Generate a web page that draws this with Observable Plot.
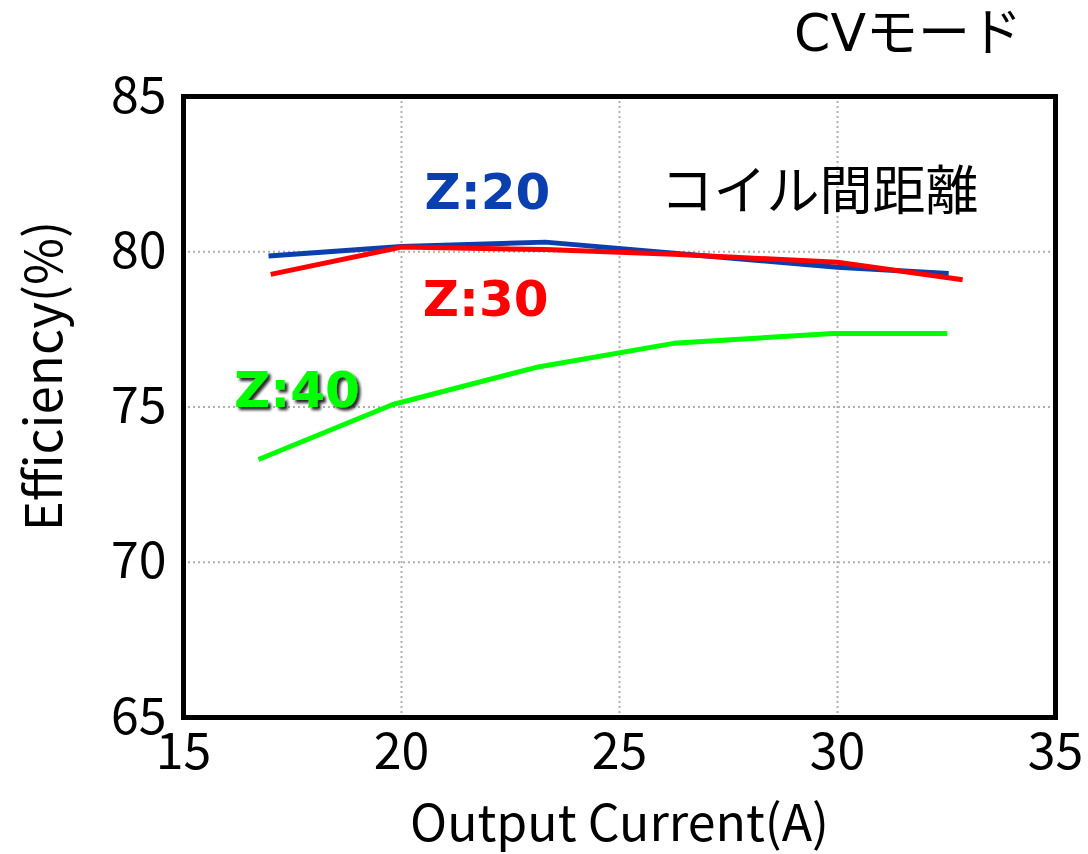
<!DOCTYPE html>
<html><head><meta charset="utf-8">
<script src="https://cdn.jsdelivr.net/npm/d3@7"></script>
<script src="https://cdn.jsdelivr.net/npm/@observablehq/plot@0.6"></script>
<style>
body{margin:0;background:#fff;}
#c{position:relative;width:1088px;height:854px;}
#title{position:absolute;right:66px;top:7px;font-family:'DejaVu Sans','Noto Sans CJK JP',sans-serif;font-size:52px;line-height:52px;color:#000;white-space:nowrap;}
</style>
</head><body><div id="c"><div id="title"></div></div>
<script>
const xTicks = [15, 20, 25, 30, 35];
const yTicks = [65, 70, 75, 80, 85];
const z20x = [16.95, 20.0, 23.3, 30.0, 32.55];
const z20y = [79.86, 80.17, 80.31, 79.5, 79.3];
const z30x = [17.0, 20.0, 23.3, 26.24, 30.0, 32.87];
const z30y = [79.27, 80.15, 80.07, 79.92, 79.66, 79.1];
const z40x = [16.72, 19.8, 23.07, 26.24, 29.9, 32.52];
const z40y = [73.31, 75.08, 76.27, 77.05, 77.37, 77.37];
const seriesNames = ["Z:20", "Z:30", "Z:40"];
const seriesColors = ["#0a3fb0", "#ff0000", "#00ff00"];
const titleText = "CVモード";
const legendTitle = "コイル間距離";

const rows = [];
[[z20x, z20y], [z30x, z30y], [z40x, z40y]].forEach(([xs, ys], i) => {
  xs.forEach((x, j) => rows.push({series: seriesNames[i], x, y: ys[j]}));
});

const latin = "'Noto Sans CJK JP', 'Noto Sans', sans-serif";
const bold = "'DejaVu Sans', Verdana, sans-serif";

document.getElementById("title").textContent = titleText;

const chart = Plot.plot({
  width: 1088, height: 854,
  marginLeft: 183, marginRight: 33, marginTop: 96, marginBottom: 137,
  style: {fontFamily: latin, background: "transparent"},
  x: {domain: [15, 35], ticks: xTicks, tickSize: 0, label: null},
  y: {domain: [65, 85], ticks: yTicks, tickSize: 0, label: null},
  color: {domain: seriesNames, range: seriesColors},
  marks: [
    Plot.ruleX(xTicks.slice(1, -1), {stroke: "#b0b0b0", strokeWidth: 2, strokeDasharray: "2,3"}),
    Plot.ruleY(yTicks.slice(1, -1), {stroke: "#b0b0b0", strokeWidth: 2, strokeDasharray: "2,3"}),
    Plot.line(rows, {x: "x", y: "y", z: "series", stroke: "series", strokeWidth: 5, strokeLinejoin: "miter", strokeLinecap: "butt"}),
    Plot.frame({stroke: "#000", strokeWidth: 5}),
    Plot.axisX(xTicks, {tickSize: 0, fontSize: 50, dy: 7, fill: "#000", tickFormat: d => d}),
    Plot.axisY(yTicks, {tickSize: 0, fontSize: 50, dx: -8, fill: "#000", tickFormat: d => d}),
    Plot.text(["Output Current(A)"], {frameAnchor: "bottom", lineAnchor: "middle", dy: 107, fontSize: 50, fill: "#000"}),
    Plot.text(["Efficiency(%)"], {frameAnchor: "left", textAnchor: "middle", dx: -138, dy: -31, rotate: -90, fontSize: 51, fill: "#000"}),
    Plot.text([legendTitle], {x: 29.59, y: 81.88, fontSize: 53, fill: "#000"}),
    Plot.text([seriesNames[0]], {x: 21.97, y: 81.88, fontSize: 50, fontWeight: "bold", fontFamily: bold, fill: seriesColors[0]}),
    Plot.text([seriesNames[1]], {x: 21.93, y: 78.43, fontSize: 50, fontWeight: "bold", fontFamily: bold, fill: seriesColors[1]}),
    Plot.text([seriesNames[2]], {x: 17.6, y: 75.53, fontSize: 50, fontWeight: "bold", fontFamily: bold, fill: seriesColors[2], className: "shadowed"})
  ]
});
// drop shadow for the Z:40 label
const svg = d3.select(chart);
const defs = svg.insert("defs", ":first-child");
const f = defs.append("filter").attr("id", "ds").attr("x", "-20%").attr("y", "-20%").attr("width", "140%").attr("height", "140%");
f.append("feDropShadow").attr("dx", 3).attr("dy", 3).attr("stdDeviation", 1.5).attr("flood-color", "#000").attr("flood-opacity", 0.85);
svg.selectAll(".shadowed").attr("filter", "url(#ds)");
document.getElementById("c").insertBefore(chart, document.getElementById("title"));
</script>
</body></html>
